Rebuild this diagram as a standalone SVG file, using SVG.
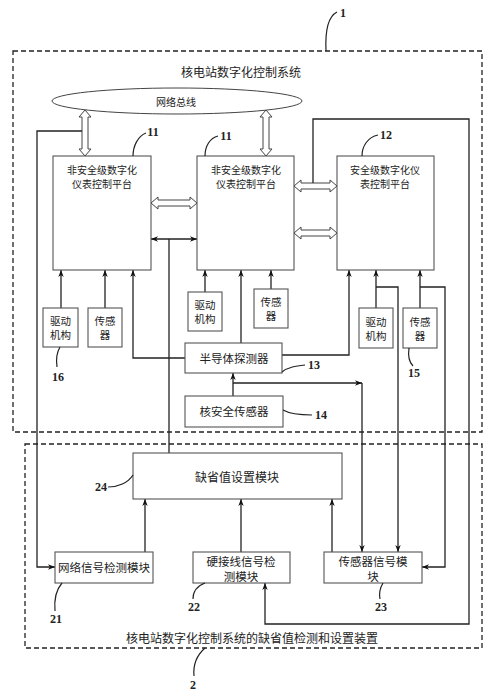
<svg xmlns="http://www.w3.org/2000/svg" width="500" height="696" viewBox="0 0 500 696">
<defs>
<marker id="ah" markerUnits="userSpaceOnUse" markerWidth="7" markerHeight="7" viewBox="0 0 7 7" refX="7" refY="3.5" orient="auto-start-reverse">
<path d="M0,0.8 L7,3.5 L0,6.2 L2,3.5 z" fill="#111"/>
</marker>
</defs>
<style>
.dash{fill:none;stroke:#222;stroke-width:1.3;stroke-dasharray:5,3}
.box{fill:#fff;stroke:#555;stroke-width:1.1}
.ln{fill:none;stroke:#222;stroke-width:1.3}
.arr{fill:none;stroke:#222;stroke-width:1.3;marker-end:url(#ah)}
.hol{fill:#fff;stroke:#444;stroke-width:1}
.lead{fill:none;stroke:#222;stroke-width:1.2}
.t{font-family:"Noto Sans CJK SC","Noto Sans",sans-serif;fill:#222;text-anchor:middle;dominant-baseline:central}
.n{font-family:"Liberation Serif",serif;font-weight:bold;font-size:12px;fill:#222;text-anchor:middle;dominant-baseline:central}
</style>
<rect width="500" height="696" fill="#fff"/>

<g id="system1">
<rect class="dash" x="13" y="51" width="469" height="381"/>
<text class="t" x="241" y="71" font-size="12">核电站数字化控制系统</text>
<path class="lead" d="M326,51 C325,30 329,16 337,12"/>
<text class="n" x="343" y="13">1</text>
</g>

<g id="device2">
<rect class="dash" x="25" y="444" width="457" height="204"/>
<text class="t" x="252" y="637" font-size="12">核电站数字化控制系统的缺省值检测和设置装置</text>
<path class="lead" d="M205,648 C197,655 193,665 194,676"/>
<text class="n" x="193" y="685">2</text>
</g>

<g id="bus">
<ellipse cx="177" cy="101" rx="125" ry="13" fill="#fff" stroke="#444" stroke-width="1"/>
<text class="t" x="176" y="101" font-size="10">网络总线</text>
</g>

<g id="connectors">
<polygon class="hol" points="85,110 91,117 88,117 88,149 91,149 85,156 79,149 82,149 82,117 79,117"/>
<polygon class="hol" points="266,110 272,117 269,117 269,149 272,149 266,156 260,149 263,149 263,117 260,117"/>
<polygon class="hol" points="151,203 158,197 158,200 190,200 190,197 197,203 190,209 190,206 158,206 158,209"/>
<polygon class="hol" points="294,186 301,180 301,183 330,183 330,180 337,186 330,192 330,189 301,189 301,192"/>
<polygon class="hol" points="294,233 301,227 301,230 330,230 330,227 337,233 330,239 330,236 301,236 301,239"/>
<path class="ln" d="M151,239 L197,239" marker-start="url(#ah)" marker-end="url(#ah)"/>
<path class="ln" d="M169,239 L169,453"/>
<path class="arr" d="M82,131 L37,131 L37,567 L55,567"/>
<path class="arr" d="M313,183 L313,119 L469,119 L469,624 L265,624 L265,583"/>
<path class="arr" d="M61,308 L61,270"/>
<path class="arr" d="M105,308 L105,270"/>
<path class="arr" d="M185,358 L133,358 L133,270"/>
<path class="arr" d="M205,292 L205,270"/>
<path class="arr" d="M241,343 L241,270"/>
<path class="arr" d="M271,289 L271,270"/>
<path class="arr" d="M282,355 L349,355 L349,270"/>
<path class="arr" d="M376,308 L376,270"/>
<path class="arr" d="M420,308 L420,270"/>
<path class="arr" d="M376,287 L398,287 L398,552"/>
<path class="arr" d="M420,287 L445,287 L445,567 L422,567"/>
<path class="arr" d="M233,396 L233,373"/>
<path class="arr" d="M233,383 L362,383"/>
<path class="arr" d="M362,383 L362,552"/>
<path class="arr" d="M145,552 L145,499"/>
<path class="arr" d="M241,552 L241,499"/>
<path class="arr" d="M332,552 L332,499"/>
</g>

<g id="platform11a">
<rect class="box" x="53" y="156" width="98" height="114"/>
<text class="t" x="102" y="169.5" font-size="10">非安全级数字化</text>
<text class="t" x="102" y="183" font-size="10">仪表控制平台</text>
<path class="lead" d="M133,156 C133,146 138,136 146,133"/>
<text class="n" x="153" y="132">11</text>
</g>

<g id="platform11b">
<rect class="box" x="197" y="156" width="97" height="114"/>
<text class="t" x="246" y="169.5" font-size="10">非安全级数字化</text>
<text class="t" x="246" y="183" font-size="10">仪表控制平台</text>
<path class="lead" d="M205,156 C205,146 210,138 218,136"/>
<text class="n" x="226" y="136">11</text>
</g>

<g id="platform12">
<rect class="box" x="337" y="156" width="97" height="114"/>
<text class="t" x="385" y="169.5" font-size="10">安全级数字化仪</text>
<text class="t" x="385" y="183" font-size="10">表控制平台</text>
<path class="lead" d="M362,156 C362,146 368,137 378,135"/>
<text class="n" x="386" y="135">12</text>
</g>

<g id="drive16">
<rect class="box" x="43" y="308" width="35" height="39"/>
<text class="t" x="60.5" y="320.5" font-size="10.5">驱动</text>
<text class="t" x="60.5" y="334.5" font-size="10.5">机构</text>
<path class="lead" d="M60,347 C57,352 56,360 57,367"/>
<text class="n" x="58" y="377">16</text>
</g>

<g id="sensorL">
<rect class="box" x="88" y="308" width="34" height="39"/>
<text class="t" x="105" y="320.5" font-size="10.5">传感</text>
<text class="t" x="105" y="334.5" font-size="10.5">器</text>
</g>

<g id="driveM">
<rect class="box" x="188" y="292" width="34" height="39"/>
<text class="t" x="205" y="304.5" font-size="10.5">驱动</text>
<text class="t" x="205" y="318.5" font-size="10.5">机构</text>
</g>

<g id="sensorM">
<rect class="box" x="254" y="289" width="34" height="39"/>
<text class="t" x="271" y="301.5" font-size="10.5">传感</text>
<text class="t" x="271" y="315.5" font-size="10.5">器</text>
</g>

<g id="driveR">
<rect class="box" x="359" y="308" width="34" height="40"/>
<text class="t" x="376" y="321" font-size="10.5">驱动</text>
<text class="t" x="376" y="335" font-size="10.5">机构</text>
</g>

<g id="sensor15">
<rect class="box" x="403" y="308" width="34" height="40"/>
<text class="t" x="420" y="321" font-size="10.5">传感</text>
<text class="t" x="420" y="335" font-size="10.5">器</text>
<path class="lead" d="M409,348 C408,355 409,362 413,366"/>
<text class="n" x="414" y="373">15</text>
</g>

<g id="detector13">
<rect class="box" x="185" y="343" width="97" height="30"/>
<text class="t" x="234" y="358" font-size="11.5">半导体探测器</text>
<path class="lead" d="M282,372 C288,367 296,366 305,365"/>
<text class="n" x="314" y="365">13</text>
</g>

<g id="nsensor14">
<rect class="box" x="185" y="396" width="98" height="31"/>
<text class="t" x="234" y="411" font-size="11.5">核安全传感器</text>
<path class="lead" d="M283,410 C290,414 300,415 312,415"/>
<text class="n" x="321" y="415">14</text>
</g>

<g id="default24">
<rect class="box" x="133" y="453" width="209" height="46"/>
<text class="t" x="237" y="476" font-size="12">缺省值设置模块</text>
<path class="lead" d="M133,475 C128,483 118,487 108,487"/>
<text class="n" x="101" y="487">24</text>
</g>

<g id="net21">
<rect class="box" x="55" y="552" width="98" height="31"/>
<text class="t" x="104" y="567" font-size="11.5">网络信号检测模块</text>
<path class="lead" d="M62,583 C56,590 54,600 55,611"/>
<text class="n" x="56" y="619">21</text>
</g>

<g id="hard22">
<rect class="box" x="193" y="552" width="97" height="31"/>
<text class="t" x="241" y="561" font-size="11.5">硬接线信号检</text>
<text class="t" x="241" y="576" font-size="11.5">测模块</text>
<path class="lead" d="M205,583 C197,586 193,592 193,599"/>
<text class="n" x="194" y="607">22</text>
</g>

<g id="sensor23">
<rect class="box" x="324" y="552" width="98" height="31"/>
<text class="t" x="373" y="561" font-size="11.5">传感器信号模</text>
<text class="t" x="373" y="576" font-size="11.5">块</text>
<path class="lead" d="M383,583 C380,588 379,594 380,599"/>
<text class="n" x="381" y="607">23</text>
</g>
</svg>
